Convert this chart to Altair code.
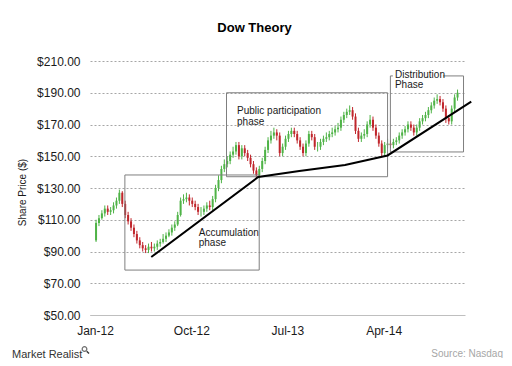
import altair as alt
import pandas as pd

# ---------------- data ----------------
# candles roughly every 8 days from 2012-01-04 to 2014-10-28
closes = [108, 111, 114, 117, 115, 116, 119, 122, 127, 120, 113, 109, 105, 101, 97, 94,
          92, 91, 93, 92, 93, 95, 96, 98, 100, 102, 105, 107, 113, 122, 123, 124, 122, 120,
          118, 115, 115, 117, 119, 118, 123, 130, 135, 142, 145, 147, 151, 153, 157, 150,
          155, 152, 149, 145, 141, 138, 142, 147, 154, 160, 163, 165, 163, 152, 156, 161,
          164, 166, 164, 160, 156, 152, 158, 164, 162, 156, 156, 159, 161, 162, 164, 165,
          167, 168, 173, 176, 178, 179, 175, 166, 161, 163, 164, 170, 173, 168, 163, 158,
          152, 157, 158, 157, 159, 160, 163, 165, 167, 170, 168, 165, 168, 172, 174, 176,
          179, 182, 185, 186, 184, 180, 174, 172, 180, 187, 190]
highs = [110, 113, 116, 119, 119, 118, 121, 124, 129, 128, 122, 115, 111, 107, 103, 99,
         96, 94, 95, 96, 95, 97, 98, 101, 102, 104, 107, 109, 115, 124, 126, 127, 126, 124,
         122, 120, 118, 119, 121, 122, 125, 132, 138, 144, 148, 150, 153, 156, 159, 159,
         157, 157, 154, 151, 147, 143, 144, 149, 156, 162, 166, 168, 167, 165, 158, 163,
         166, 168, 168, 166, 162, 158, 160, 166, 166, 164, 159, 161, 163, 165, 166, 168,
         169, 171, 175, 178, 180, 182, 181, 177, 168, 165, 167, 172, 176, 175, 170, 165,
         160, 159, 161, 160, 161, 162, 165, 167, 169, 172, 172, 170, 170, 174, 176, 178,
         181, 184, 187, 189, 188, 186, 182, 176, 182, 189, 192]
lows = [96, 106, 110, 112, 113, 113, 114, 117, 120, 118, 111, 107, 103, 99, 95, 92,
        90, 89, 89, 90, 90, 91, 93, 95, 96, 99, 100, 103, 106, 112, 120, 121, 119, 118,
        116, 113, 112, 113, 115, 116, 116, 121, 128, 133, 140, 143, 145, 149, 151, 148,
        148, 150, 147, 143, 139, 136, 136, 140, 145, 152, 158, 161, 160, 150, 150, 154,
        159, 162, 162, 158, 154, 150, 150, 156, 160, 154, 153, 154, 157, 159, 160, 162,
        163, 165, 166, 171, 174, 176, 173, 164, 159, 159, 161, 162, 168, 166, 161, 156,
        150, 150, 155, 155, 155, 157, 158, 161, 163, 165, 166, 163, 163, 166, 170, 172,
        174, 177, 180, 183, 182, 178, 171, 170, 170, 178, 185]
first_open = 97
candle_start = "2012-01-04"
candle_end = "2014-10-28"

# phase boxes
box_x = ["2012-03-26", "2013-01-09", "2014-04-20"]
box_x2 = ["2013-04-12", "2014-04-12", "2014-11-14"]
box_top = [138.2, 190.0, 200.6]
box_bottom = [78.3, 137.1, 152.7]

# trend line
trend_dates = ["2012-06-09", "2013-04-09", "2013-08-04", "2013-12-12", "2014-04-12", "2014-12-06"]
trend_prices = [86.5, 136.9, 140.7, 144.5, 150.5, 184.4]

# annotation labels
label_text = ["Accumulation", "phase", "Public participation", "phase", "Distribution", "Phase"]
label_dates = ["2012-10-22", "2012-10-22", "2013-02-08", "2013-02-08", "2014-05-03", "2014-05-03"]
label_prices = [99.8, 93.5, 176.6, 169.8, 199.5, 193.0]

# axis ticks
y_ticks = [50, 70, 90, 110, 130, 150, 170, 190, 210]
x_tick_dates = [(2012, 1), (2012, 10), (2013, 7), (2014, 4)]

FONT = "Liberation Sans, Arial, sans-serif"
GREEN = "#4fb347"
RED = "#c0262c"

# ---------------- tables ----------------
dates = pd.date_range(candle_start, candle_end, periods=len(closes))
opens = [first_open] + closes[:-1]
candles = pd.DataFrame({"date": dates, "open": opens, "close": closes,
                        "high": highs, "low": lows})

boxes = pd.DataFrame({"x": pd.to_datetime(box_x), "x2": pd.to_datetime(box_x2),
                      "y": box_top, "y2": box_bottom})
mask = pd.DataFrame({"x": pd.to_datetime(["2014-04-27"]), "x2": pd.to_datetime(["2014-09-17"]),
                     "y": [204.5], "y2": [198.3]})
trend = pd.DataFrame({"date": pd.to_datetime(trend_dates), "price": trend_prices})
labels = pd.DataFrame({"date": pd.to_datetime(label_dates), "price": label_prices,
                       "text": label_text})

xscale = alt.Scale(domain=[alt.DateTime(year=2012, month=1, date=1),
                           alt.DateTime(year=2014, month=11, date=4)], nice=False)
yscale = alt.Scale(domain=[50, 210], nice=False, zero=False)

x_axis = alt.Axis(values=[alt.DateTime(year=y, month=m, date=1) for y, m in x_tick_dates],
                  format="%b-%y", labelFlush=False, labelOverlap=False, grid=False,
                  ticks=False, domainColor="#bfbfbf", labelPadding=10, labelFontSize=12,
                  labelFont=FONT, labelColor="#1a1a1a", title=None)
y_axis = alt.Axis(values=y_ticks, format="$,.2f", grid=True, gridDash=[2, 2],
                  gridColor="#a6a6a6", domain=False, ticks=False, labelPadding=10,
                  labelFontSize=12, labelFont=FONT, labelColor="#1a1a1a",
                  title="Share Price ($)", titleFontSize=10, titleFontWeight="normal",
                  titleFont=FONT, titleColor="#1a1a1a", titleX=-68, titleY=131,
                  titleAngle=-90, titleAlign="center", titleBaseline="middle")


def X(field):
    return alt.X(field, scale=xscale, axis=x_axis)


def Y(field):
    return alt.Y(field, scale=yscale, axis=y_axis)


candle_color = alt.condition("datum.close >= datum.open", alt.value(GREEN), alt.value(RED))

wick_layer = alt.Chart(candles).mark_rule(strokeWidth=1).encode(
    x=X("date:T"), y=Y("low:Q"), y2="high:Q", color=candle_color,
)

candle_layer = alt.Chart(candles).mark_bar(width=2).encode(
    x=X("date:T"), y=Y("open:Q"), y2="close:Q", color=candle_color,
)

box_layer = alt.Chart(boxes).mark_rect(filled=False, stroke="#7f7f7f", strokeWidth=1).encode(
    x=X("x:T"), x2="x2:T", y=Y("y:Q"), y2="y2:Q",
)

mask_layer = alt.Chart(mask).mark_rect(color="white").encode(
    x=X("x:T"), x2="x2:T", y=Y("y:Q"), y2="y2:Q",
)

trend_layer = alt.Chart(trend).mark_line(color="black", strokeWidth=2).encode(
    x=X("date:T"), y=Y("price:Q"),
)

label_layer = alt.Chart(labels).mark_text(align="left", baseline="alphabetic", fontSize=10,
                                          font=FONT, color="#1a1a1a").encode(
    x=X("date:T"), y=Y("price:Q"), text="text:N",
)

one = alt.Data(values=[{"k": 0}])
title_layer = alt.Chart(one).mark_text(text="Dow Theory", fontSize=13, fontWeight="bold",
                                       font=FONT, align="center", baseline="alphabetic",
                                       color="#000").encode(
    x=alt.value(164.5), y=alt.value(-29.5))
brand_layer = alt.Chart(one).mark_text(text="Market Realist", fontSize=11, font=FONT,
                                       align="left", baseline="alphabetic",
                                       color="#333333").encode(
    x=alt.value(-78), y=alt.value(296.5))
source_layer = alt.Chart(one).mark_text(text="Source: Nasdaq", fontSize=10, font=FONT,
                                        align="right", baseline="alphabetic",
                                        color="#a6a6a6").encode(
    x=alt.value(413), y=alt.value(296))
lens_layer = alt.Chart(one).mark_point(shape="circle", size=22, filled=False,
                                       color="#333333", strokeWidth=1.2).encode(
    x=alt.value(-5.5), y=alt.value(288))
handle_layer = alt.Chart(one).mark_rule(color="#333333", strokeWidth=1.4).encode(
    x=alt.value(-3.3), y=alt.value(290.3), x2=alt.value(-1), y2=alt.value(292.6))

chart = alt.layer(
    wick_layer, candle_layer, box_layer, mask_layer, trend_layer, label_layer,
    title_layer, brand_layer, source_layer, lens_layer, handle_layer,
).properties(
    width=375, height=254,
    autosize=alt.AutoSizeParams(type="none"),
    padding={"left": 82, "top": 53, "right": 39, "bottom": 43},
    background="white",
).configure_view(stroke=None)

chart.save("out.html", embed_options={"renderer": "svg", "actions": False})
